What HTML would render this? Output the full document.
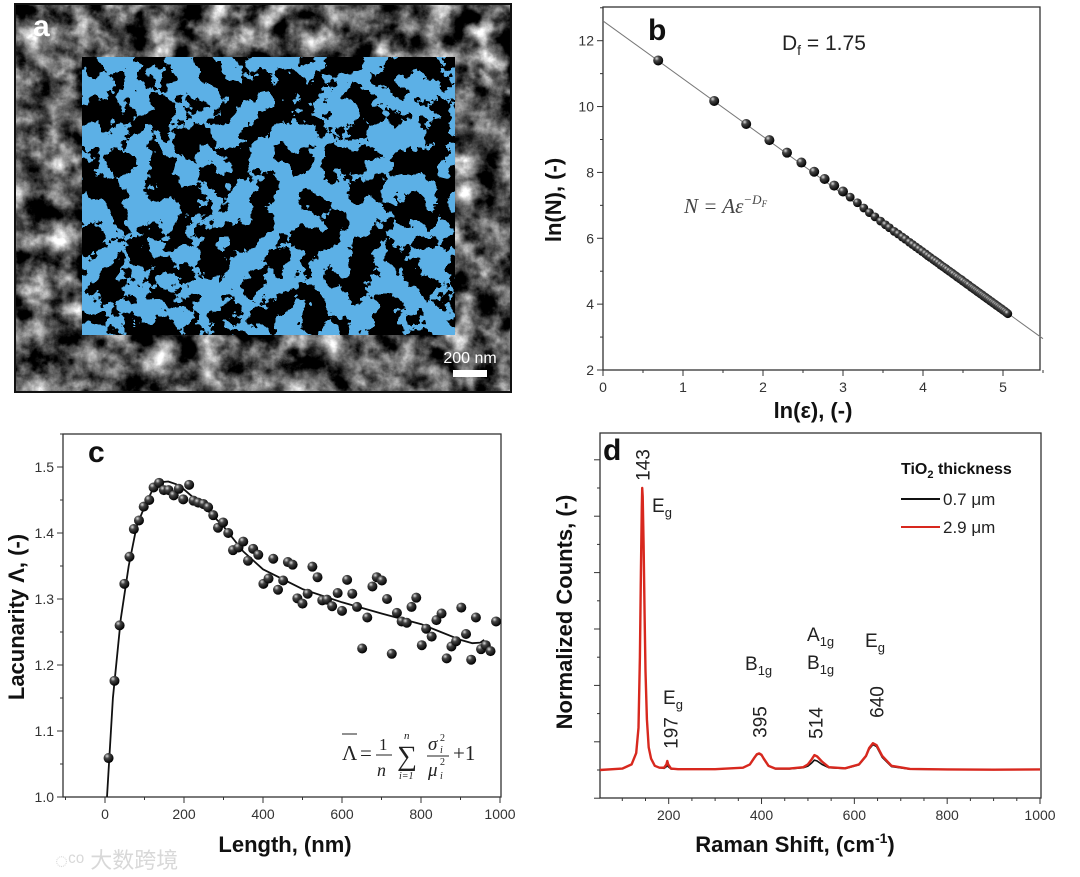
<!DOCTYPE html>
<html><head><meta charset="utf-8">
<style>
html,body{margin:0;padding:0;background:#fff;}
svg{display:block;font-family:"Liberation Sans","Noto Sans CJK SC",sans-serif;}
.tk{font-size:14px;fill:#333;}
.ttl{font-size:22px;font-weight:bold;fill:#111;}
.ann{font-size:19px;fill:#222;}
</style></head>
<body>
<svg id="fig" width="1080" height="877" viewBox="0 0 1080 877" xmlns="http://www.w3.org/2000/svg">
<defs>
<radialGradient id="ball" cx="0.35" cy="0.3" r="0.7">
<stop offset="0" stop-color="#ddd"/><stop offset="0.35" stop-color="#444"/><stop offset="1" stop-color="#000"/>
</radialGradient>
<filter id="grain" x="0" y="0" width="100%" height="100%" color-interpolation-filters="sRGB">
<feTurbulence type="fractalNoise" baseFrequency="0.04" numOctaves="5" seed="3"/>
<feColorMatrix type="matrix" values="0.33 0.33 0.33 0 0  0.33 0.33 0.33 0 0  0.33 0.33 0.33 0 0  0 0 0 0 1"/>
<feComponentTransfer><feFuncR type="linear" slope="3.2" intercept="-1.25"/><feFuncG type="linear" slope="3.2" intercept="-1.25"/><feFuncB type="linear" slope="3.2" intercept="-1.25"/></feComponentTransfer>
</filter>
<filter id="blobs" x="0" y="0" width="100%" height="100%">
<feTurbulence type="fractalNoise" baseFrequency="0.04" numOctaves="5" seed="7"/>
<feColorMatrix type="matrix" values="0 0 0 0 0  0 0 0 0 0  0 0 0 0 0  1 0 0 0 0"/>
<feComponentTransfer><feFuncA type="discrete" tableValues="1 1 1 1 1 1 0 0 0 0 0 0"/></feComponentTransfer>
</filter>
</defs>

<!-- Panel a -->
<g>
<rect x="14" y="3" width="498" height="390" fill="#111"/>
<rect x="16" y="5" width="494" height="386" fill="#777" filter="url(#grain)"/>
<rect x="82" y="57" width="373" height="278" fill="#5cb0e6"/>
<rect x="82" y="57" width="373" height="278" fill="#000" filter="url(#blobs)"/>
<text x="33" y="36" font-size="30" font-weight="bold" fill="#fff">a</text>
<text x="470" y="363" font-size="16" fill="#fff" text-anchor="middle">200 nm</text>
<rect x="453" y="370" width="34" height="7" fill="#fff"/>
</g>

<g id="pb"></g>
<g id="pc"></g>
<g id="pd"></g>

<text x="55" y="868" font-size="22" fill="#d8d8d8">◌ᶜᵒ 大数跨境</text>
</svg>
<script>
// ---------- Panel b data ----------
const bX=[0.69,1.39,1.79,2.08,2.30,2.48,2.64,2.77,2.89,3.00,3.09,3.18,3.26,3.33,3.40,3.47,3.53,3.58,3.64,3.69,3.74,3.78,3.83,3.87,3.91,3.95,3.99,4.03,4.06,4.09,4.13,4.16,4.19,4.22,4.25,4.28,4.30,4.33,4.36,4.38,4.41,4.43,4.46,4.48,4.50,4.53,4.55,4.57,4.60,4.62,4.64,4.66,4.68,4.70,4.72,4.74,4.76,4.78,4.80,4.82,4.84,4.86,4.88,4.90,4.92,4.94,4.96,4.98,5.00,5.02,5.04,5.06];
const bY=[11.40,10.17,9.47,8.98,8.60,8.30,8.02,7.80,7.60,7.42,7.25,7.08,6.92,6.78,6.65,6.52,6.41,6.32,6.21,6.13,6.04,5.97,5.88,5.81,5.74,5.67,5.60,5.53,5.47,5.42,5.35,5.30,5.25,5.19,5.14,5.09,5.05,5.00,4.95,4.91,4.86,4.82,4.77,4.74,4.70,4.65,4.61,4.58,4.52,4.49,4.45,4.42,4.38,4.35,4.31,4.28,4.24,4.21,4.17,4.14,4.10,4.07,4.03,4.00,3.96,3.93,3.89,3.86,3.82,3.79,3.75,3.71];
const bFitX=[0,5.5];
const bFitY=[12.6,2.95];
const bXTicks=[0,1,2,3,4,5];
const bYTicks=[2,4,6,8,10,12];

// ---------- Panel c data ----------
const cX=[9,24,37,49,62,73,86,98,112,123,137,149,161,174,187,198,213,224,236,249,261,274,286,299,312,324,338,350,362,375,388,401,414,426,438,451,463,475,487,500,513,525,538,550,562,575,589,600,613,626,638,651,664,677,688,701,714,726,739,751,764,776,788,802,813,827,839,852,865,877,889,902,914,927,939,952,964,976,990];
const cY=[1.059,1.176,1.260,1.323,1.364,1.406,1.419,1.440,1.450,1.469,1.476,1.465,1.465,1.457,1.467,1.451,1.473,1.449,1.446,1.444,1.439,1.427,1.408,1.416,1.400,1.374,1.378,1.387,1.358,1.376,1.367,1.323,1.331,1.361,1.314,1.328,1.356,1.352,1.301,1.293,1.308,1.349,1.333,1.298,1.299,1.289,1.309,1.282,1.329,1.308,1.288,1.225,1.272,1.319,1.333,1.328,1.300,1.217,1.279,1.266,1.264,1.288,1.302,1.230,1.255,1.243,1.268,1.278,1.210,1.228,1.236,1.287,1.247,1.208,1.272,1.224,1.230,1.221,1.266];
const cFitX=[5,20,40,60,80,100,120,140,160,180,200,250,300,350,400,450,500,600,700,800,850,900,930,950,960];
const cFitY=[1.0,1.15,1.27,1.35,1.41,1.44,1.465,1.477,1.478,1.474,1.466,1.44,1.41,1.372,1.345,1.33,1.315,1.295,1.278,1.262,1.25,1.238,1.233,1.234,1.238];
const cXTicks=[0,200,400,600,800,1000];
const cYTicks=[1.0,1.1,1.2,1.3,1.4,1.5];

// ---------- Panel d data ----------
const dX=[52,100,120,130,135,138,140,142,143,144,146,148,150,153,157,162,170,180,190,195,197,199,205,220,300,360,375,385,390,395,400,405,415,430,460,490,500,508,514,520,530,545,580,610,625,632,640,648,660,680,720,800,900,1000];
const dRed=[0,0.005,0.02,0.06,0.15,0.4,0.7,0.93,1.0,0.97,0.8,0.55,0.35,0.18,0.08,0.04,0.015,0.008,0.008,0.02,0.032,0.02,0.005,0.003,0.003,0.008,0.02,0.045,0.056,0.059,0.054,0.04,0.015,0.005,0.005,0.01,0.02,0.038,0.053,0.048,0.03,0.01,0.006,0.02,0.05,0.078,0.095,0.088,0.05,0.015,0.004,0.002,0.001,0.002];
const dBlack=[0,0.005,0.02,0.06,0.15,0.4,0.7,0.93,0.99,0.96,0.8,0.55,0.35,0.18,0.08,0.04,0.015,0.008,0.006,0.012,0.018,0.012,0.004,0.003,0.003,0.008,0.02,0.043,0.054,0.057,0.052,0.038,0.014,0.004,0.004,0.008,0.014,0.025,0.035,0.032,0.02,0.008,0.005,0.018,0.048,0.074,0.09,0.083,0.045,0.012,0.003,0.002,0.001,0.002];
const dXTicks=[200,400,600,800,1000];
const dYTicks=[-0.1,0,0.1,0.2,0.3,0.4,0.5,0.6,0.7,0.8,0.9,1.0,1.1];

const NS="http://www.w3.org/2000/svg";
function mk(parent,tag,attrs){const e=document.createElementNS(NS,tag);for(const k in attrs)e.setAttribute(k,attrs[k]);parent.appendChild(e);return e;}
function lin(d0,d1,r0,r1){return v=>r0+(v-d0)/(d1-d0)*(r1-r0);}

// ===== Panel b =====
(function(){
const g=document.getElementById('pb');
const L=603,R=1040,T=7,B=370;
const sx=lin(0,5.5,L,L+440),sy=lin(2,12,370,40.7);
const frame=mk(g,'rect',{x:L,y:T,width:R-L,height:B-T,fill:'none',stroke:'#333','stroke-width':1.3});


for(let v=0;v<=5.5;v+=0.5){const t=mk(g,'line',{x1:sx(v),x2:sx(v),y1:B,y2:B+(v%1===0?6:3),stroke:'#333'});
}
for(let v=2;v<=13;v+=1){const t=mk(g,'line',{x1:L,x2:L-(v%2===0?6:3),y1:sy(v),y2:sy(v),stroke:'#333'});
}
bXTicks.forEach(v=>{const t=mk(g,'text',{x:sx(v),y:B+22,'text-anchor':'middle',class:'tk'});t.textContent=v;
});
bYTicks.forEach(v=>{const t=mk(g,'text',{x:L-9,y:sy(v)+5,'text-anchor':'end',class:'tk'});t.textContent=v;
});
const fit=mk(g,'line',{x1:sx(bFitX[0]),y1:sy(bFitY[0]),x2:sx(bFitX[1]),y2:sy(bFitY[1]),stroke:'#777','stroke-width':1});

bX.forEach((x,i)=>{const c=mk(g,'circle',{cx:sx(x),cy:sy(bY[i]),r:i<10?5:4.4,fill:'url(#ball)'});
});
const xt=mk(g,'text',{x:813,y:418,'text-anchor':'middle',class:'ttl'});xt.textContent='ln(ε), (-)';

const yt=mk(g,'text',{x:0,y:0,'text-anchor':'middle',class:'ttl',transform:'translate(561,200) rotate(-90)'});yt.textContent='ln(N), (-)';

const lb=mk(g,'text',{x:648,y:40,'font-size':30,'font-weight':'bold',fill:'#111'});lb.textContent='b';

const df=mk(g,'text',{x:782,y:50,'font-size':21,fill:'#222'});df.innerHTML='D<tspan font-size="14" dy="5">f</tspan><tspan dy="-5"> = 1.75</tspan>';

const eq=mk(g,'text',{x:684,y:213,'font-size':21,'font-style':'italic',fill:'#444','font-family':'Liberation Serif,serif'});
eq.innerHTML='N = Aε<tspan font-size="13" dy="-9">−D</tspan><tspan font-size="9" dy="3">F</tspan>';

})();

// ===== Panel c =====
(function(){
const g=document.getElementById('pc');
const L=63,R=501,T=434,B=797;
const sx=lin(0,1000,105,500),sy=lin(1.0,1.5,797,467);
const frame=mk(g,'rect',{x:L,y:T,width:R-L,height:B-T,fill:'none',stroke:'#333','stroke-width':1.3});

for(let v=-100;v<=1000;v+=100){const t=mk(g,'line',{x1:sx(v),x2:sx(v),y1:B,y2:B+(v%200===0?6:3),stroke:'#333'});
}
for(let k=0;k<=11;k++){const v=1+k*0.05;const t=mk(g,'line',{x1:L,x2:L-(k%2===0?6:3),y1:sy(v),y2:sy(v),stroke:'#333'});
}
cXTicks.forEach(v=>{const t=mk(g,'text',{x:sx(v),y:B+22,'text-anchor':'middle',class:'tk'});t.textContent=v;
});
cYTicks.forEach(v=>{const t=mk(g,'text',{x:L-9,y:sy(v)+5,'text-anchor':'end',class:'tk'});t.textContent=v.toFixed(1);
});
let d='';cFitX.forEach((x,i)=>{d+=(i?'L':'M')+sx(x).toFixed(1)+','+sy(cFitY[i]).toFixed(1);});
const fit=mk(g,'path',{d:d,fill:'none',stroke:'#111','stroke-width':1.8,'stroke-linejoin':'round'});

cX.forEach((x,i)=>{const c=mk(g,'circle',{cx:sx(x),cy:sy(cY[i]),r:5,fill:'url(#ball)'});
});
const xt=mk(g,'text',{x:285,y:852,'text-anchor':'middle',class:'ttl'});xt.textContent='Length, (nm)';

const yt=mk(g,'text',{x:0,y:0,'text-anchor':'middle',class:'ttl',transform:'translate(24,617) rotate(-90)'});yt.textContent='Lacunarity Λ, (-)';

const lb=mk(g,'text',{x:88,y:462,'font-size':30,'font-weight':'bold',fill:'#111'});lb.textContent='c';

const eq=mk(g,'g',{'font-family':'Liberation Serif,serif',fill:'#222'});

eq.innerHTML='<text x="342" y="760" font-size="21">Λ</text><line x1="342" x2="357" y1="734" y2="734" stroke="#222"/>'+
'<text x="360" y="760" font-size="21">=</text><text x="379" y="750" font-size="17">1</text><line x1="376" x2="392" y1="755" y2="755" stroke="#222"/>'+
'<text x="377" y="776" font-size="18" font-style="italic">n</text><text x="397" y="765" font-size="28">∑</text>'+
'<text x="404" y="739" font-size="11" font-style="italic">n</text><text x="399" y="779" font-size="10" font-style="italic">i=1</text>'+
'<text x="428" y="750" font-size="19" font-style="italic">σ</text><text x="440" y="741" font-size="10">2</text><text x="440" y="753" font-size="10" font-style="italic">i</text>'+
'<line x1="427" x2="449" y1="756" y2="756" stroke="#222"/>'+
'<text x="428" y="776" font-size="19" font-style="italic">μ</text><text x="440" y="765" font-size="10">2</text><text x="440" y="779" font-size="10" font-style="italic">i</text>'+
'<text x="453" y="760" font-size="21">+1</text>';
})();

// ===== Panel d =====
(function(){
const g=document.getElementById('pd');
const L=600,R=1041,T=433,B=798;
const sx=lin(200,1000,668.7,1040),sy=lin(0,1.0,770,488);
const frame=mk(g,'rect',{x:L,y:T,width:R-L,height:B-T,fill:'none',stroke:'#333','stroke-width':1.3});

for(let v=100;v<=1000;v+=50){const t=mk(g,'line',{x1:sx(v),x2:sx(v),y1:B,y2:B+(v%200===0?6:3),stroke:'#333'});
}
dYTicks.forEach((v,k)=>{const t=mk(g,'line',{x1:L,x2:L-(k%2===0?6:3),y1:sy(v),y2:sy(v),stroke:'#333'});
});
dXTicks.forEach(v=>{const t=mk(g,'text',{x:sx(v),y:B+22,'text-anchor':'middle',class:'tk'});t.textContent=v;
});
function path(ys){let d='';dX.forEach((x,i)=>{d+=(i?'L':'M')+sx(x).toFixed(1)+','+sy(ys[i]).toFixed(1);});return d;}
const bl=mk(g,'path',{d:path(dBlack),fill:'none',stroke:'#111','stroke-width':1.6,'stroke-linejoin':'round'});

const rd=mk(g,'path',{d:path(dRed),fill:'none',stroke:'#d8281e','stroke-width':2.4,'stroke-linejoin':'round'});

const ann=[['143',644,465],['197',672,733],['395',761,722],['514',817,723],['640',878,702]];
ann.forEach(a=>{const t=mk(g,'text',{x:0,y:0,'text-anchor':'middle','dominant-baseline':'central',class:'ann',transform:'translate('+a[1]+','+a[2]+') rotate(-90)'});t.textContent=a[0];
});
const modes=[['E','g',652,512],['E','g',663,704],['B','1g',745,670],['A','1g',807,641],['B','1g',807,669],['E','g',865,647]];
modes.forEach(m=>{const t=mk(g,'text',{x:m[2],y:m[3],class:'ann'});t.innerHTML=m[0]+'<tspan font-size="13" dy="5">'+m[1]+'</tspan>';
});
const lt=mk(g,'text',{x:901,y:474,'font-size':16,'font-weight':'bold',fill:'#111'});lt.innerHTML='TiO<tspan font-size="11" dy="4">2</tspan><tspan dy="-4"> thickness</tspan>';

[['0.7 μm','#111',499],['2.9 μm','#d8281e',527]].forEach(e=>{
const l=mk(g,'line',{x1:901,x2:940,y1:e[2],y2:e[2],stroke:e[1],'stroke-width':2});

const t=mk(g,'text',{x:943,y:e[2]+6,'font-size':17,fill:'#222'});t.textContent=e[0];
});
const xt=mk(g,'text',{x:795,y:852,'text-anchor':'middle',class:'ttl'});xt.innerHTML='Raman Shift, (cm<tspan font-size="14" dy="-9">-1</tspan><tspan dy="9">)</tspan>';

const yt=mk(g,'text',{x:0,y:0,'text-anchor':'middle',class:'ttl',transform:'translate(572,612) rotate(-90)'});yt.textContent='Normalized Counts, (-)';

const lb=mk(g,'text',{x:603,y:460,'font-size':30,'font-weight':'bold',fill:'#111'});lb.textContent='d';

})();
</script>
</body></html>
